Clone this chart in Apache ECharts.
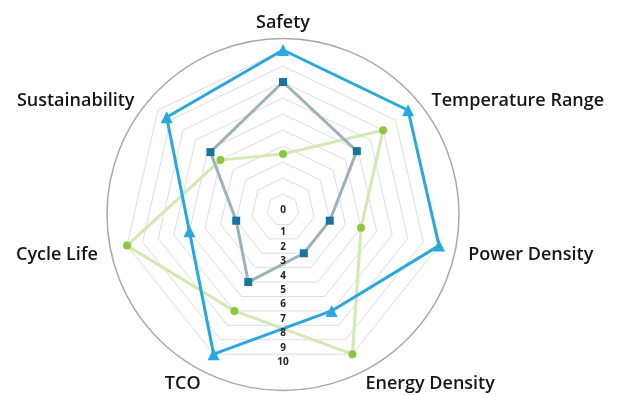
<!DOCTYPE html>
<html>
<head>
<meta charset="utf-8">
<script src="https://cdn.jsdelivr.net/npm/echarts@6/dist/echarts.min.js"></script>
<style>
html,body{margin:0;padding:0;background:#fff;}
#chart{width:620px;height:395px;}
</style>
</head>
<body>
<div id="chart"></div>
<script>
// ---- data (clockwise from top) ----
var indicators = ['Safety', 'Temperature Range', 'Power Density', 'Energy Density', 'TCO', 'Cycle Life', 'Sustainability'];
var seriesGreen = [3.5, 8, 5, 10, 7, 10, 5];
var seriesGray  = [8, 5.9, 3, 3, 5, 3, 5.8];
var seriesBlue  = [10, 10, 10, 7, 10, 6, 9.3];
var tickLabels  = ['0', '1', '2', '3', '4', '5', '6', '7', '8', '9', '10'];
var axisMax = 10;

// ECharts radar runs counter-clockwise: keep first, reverse the rest
function cw(arr) { return [arr[0]].concat(arr.slice(1).reverse()); }

// ---- layout ----
var cx = 283, cy = 210, R = 160;
var nameShift = { 'Temperature Range': 'dn', 'Sustainability': 'dn' };

var chart = echarts.init(document.getElementById('chart'), null, { renderer: 'canvas' });
var nameFont = { fontFamily: 'Open Sans', fontWeight: 600, fontSize: 18, color: '#161616' };

var option = {
  animation: false,
  backgroundColor: '#ffffff',
  radar: {
    center: [cx, cy],
    radius: R,
    startAngle: 90,
    shape: 'polygon',
    splitNumber: 10,
    nameGap: 30,
    indicator: cw(indicators).map(function (n) { return { name: n, min: 0, max: axisMax }; }),
    axisLine: { show: false },
    axisTick: { show: false },
    splitArea: { show: false },
    splitLine: { lineStyle: { color: '#dedede', width: 1 } },
    axisName: Object.assign({
      verticalAlign: 'middle',
      formatter: function (name) {
        return '{' + (nameShift[name] || 'n') + '|' + name + '}';
      },
      rich: {
        n: Object.assign({ padding: [5, 0, 0, 0] }, nameFont),
        dn: Object.assign({ padding: [18, 0, 0, 0] }, nameFont)
      }
    }, nameFont)
  },
  polar: [
    { center: [cx, cy], radius: R * Math.cos(Math.PI / indicators.length) },
    { center: [cx, 214.5], radius: 176 }
  ],
  angleAxis: [
    { polarIndex: 0, type: 'value', min: 0, max: 360, startAngle: 270, show: false },
    {
      polarIndex: 1, type: 'value', min: 0, max: 360, startAngle: 90,
      axisLine: { show: true, lineStyle: { color: '#a8a8a8', width: 1.5 } },
      axisTick: { show: false }, axisLabel: { show: false }, splitLine: { show: false }
    }
  ],
  radiusAxis: [
    {
      polarIndex: 0, type: 'value', min: 0, max: axisMax, interval: 1, z: 20,
      axisLine: { show: false }, axisTick: { show: false }, splitLine: { show: false },
      axisLabel: {
        show: true, margin: 0, align: 'center', verticalAlign: 'middle',
        fontFamily: 'Open Sans', fontWeight: 700, fontSize: 10, color: '#222',
        formatter: function (v) {
          var t = tickLabels[Math.round(v)];
          return v === 0 ? '{z|' + t + '}' : '{p|' + t + '}';
        },
        rich: {
          z: { fontFamily: 'Open Sans', fontWeight: 700, fontSize: 10, color: '#222' },
          p: { fontFamily: 'Open Sans', fontWeight: 700, fontSize: 10, color: '#222', padding: [16, 0, 0, 0] }
        }
      }
    },
    { polarIndex: 1, type: 'value', min: 0, max: 1, show: false }
  ],
  series: [
    {
      type: 'radar', z: 2,
      symbol: 'circle', symbolSize: 8,
      lineStyle: { color: '#d3e9b3', width: 3 },
      itemStyle: { color: '#8cc63f' },
      data: [{ value: cw(seriesGreen), name: 'Green' }]
    },
    {
      type: 'radar', z: 3,
      symbol: 'rect', symbolSize: 8,
      lineStyle: { color: '#9cb2bc', width: 3 },
      itemStyle: { color: '#17759f' },
      data: [{ value: cw(seriesGray), name: 'Gray' }]
    },
    {
      type: 'radar', z: 4,
      symbol: 'triangle', symbolSize: 12,
      lineStyle: { color: '#29a8e0', width: 3 },
      itemStyle: { color: '#29a8e0' },
      data: [{ value: cw(seriesBlue), name: 'Blue' }]
    }
  ]
};
chart.setOption(option);
</script>
</body>
</html>
